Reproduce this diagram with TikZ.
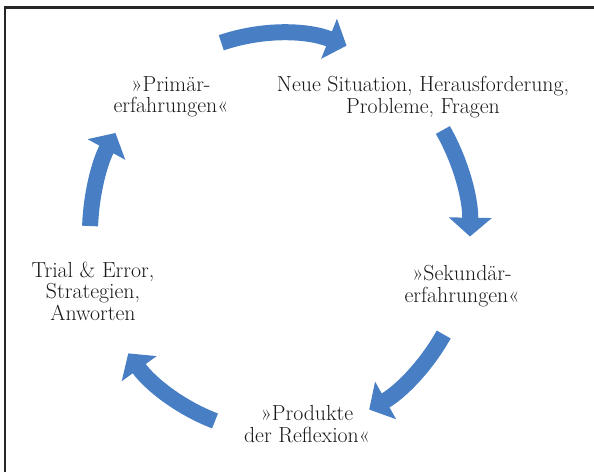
\documentclass[tikz,border=0pt]{standalone}
\usepackage{tikz}
\usetikzlibrary{arrows.meta,positioning}

\definecolor{arrowblue}{RGB}{72,126,196}

\tikzset{
  cyclearrow/.style={draw=arrowblue, line width=0.4cm, -{Triangle[width=1.05cm, length=0.47cm]}},
  stagelabel/.style={align=center, text=black!90, font=\fontsize{15.5}{15.2}\selectfont}
}

\begin{document}
\begin{tikzpicture}
    \useasboundingbox (-7.0, -5.975) rectangle (7.85, 5.825);
    \draw[black!85, line width=1.5pt] (-6.875, -5.975) -- (-6.875, 5.6375) -- (7.85, 5.6375);

    \node[stagelabel] (primaer) at (-2.725, 3.4) {»Primär-\\erfahrungen«};
    \node[stagelabel] (situation) at (3.575, 3.4) {Neue Situation, Herausforderung,\\Probleme, Fragen};
    \node[stagelabel] (sekundaer) at (4.55, -1.325) {»Sekundär-\\erfahrungen«};
    \node[stagelabel] (produkte) at (0.675, -4.775) {»Produkte\\der Reflexion«};
    \node[stagelabel] (trial) at (-4.675, -1.45) {Trial \& Error,\\Strategien,\\Anworten};

    \coordinate (a1) at (108:4.75cm and 5cm);
    \coordinate (a2) at (31:4.75cm and 5cm);
    \coordinate (a3) at (-30.5:4.75cm and 5cm);
    \coordinate (a4) at (-110:4.75cm and 5cm);
    \coordinate (a5) at (178:4.75cm and 5cm);

    \draw[cyclearrow] (a1) arc[start angle=108, end angle=69.5, x radius=4.75cm, y radius=5cm];
    \draw[cyclearrow] (a2) arc[start angle=31, end angle=-1, x radius=4.75cm, y radius=5cm];
    \draw[cyclearrow] (a3) arc[start angle=-30.5, end angle=-62, x radius=4.75cm, y radius=5cm];
    \draw[cyclearrow] (a4) arc[start angle=-110, end angle=-143, x radius=4.75cm, y radius=5cm];
    \draw[cyclearrow] (a5) arc[start angle=178, end angle=150, x radius=4.75cm, y radius=5cm];
\end{tikzpicture}
\end{document}
